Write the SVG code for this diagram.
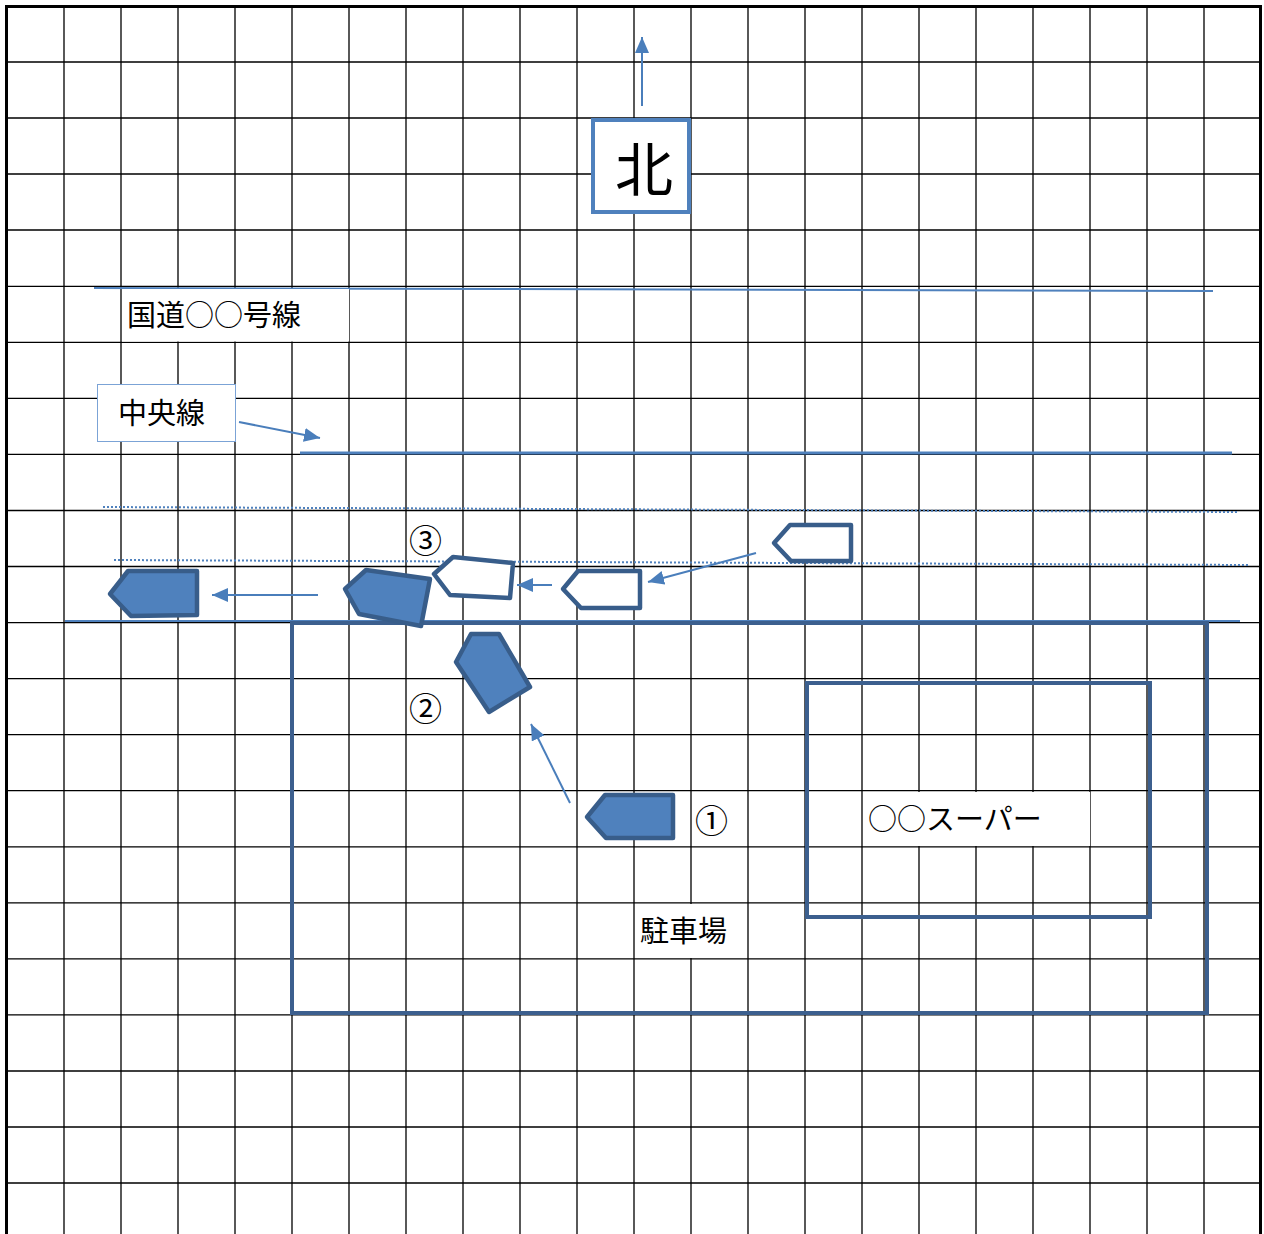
<svg xmlns="http://www.w3.org/2000/svg" width="1264" height="1234" viewBox="0 0 1264 1234">
<defs>
<style>
.g{stroke:#000;stroke-width:1.3;fill:none}
.b{stroke:#000;stroke-width:3;fill:none}
.road{stroke:#4f81bd;fill:none}
.dot{stroke:#4f81bd;stroke-width:2;stroke-dasharray:2 2;fill:none}
.area{stroke:#3c5f8e;stroke-width:4;fill:none}
.car{fill:#4f81bd;stroke:#385d8a;stroke-width:4.5;stroke-linejoin:round}
.ghost{fill:#fff;stroke:#385d8a;stroke-width:4.5;stroke-linejoin:round}
.arr{stroke:#4a7ebb;stroke-width:2;fill:none;marker-end:url(#ah)}
.t{font-family:"Noto Sans CJK JP","Noto Sans",sans-serif;font-size:29px;fill:#000}
.n{font-family:"Noto Sans CJK JP","Noto Sans",sans-serif;font-size:33px;fill:#000}
.lb{fill:#fff;stroke:none}
</style>
<marker id="ah" markerUnits="userSpaceOnUse" markerWidth="16" markerHeight="14" viewBox="0 0 16 14" refX="16" refY="7" orient="auto">
<path d="M0,0 L16,7 L0,14 z" fill="#4a7ebb"/>
</marker>
</defs>
<rect width="1264" height="1234" fill="#fff"/>
<g id="grid">
<path class="g" d="M64,6V1234M121,6V1234M178,6V1234M235,6V1234M292,6V1234M349,6V1234M406,6V1234M463,6V1234M520,6V1234M577,6V1234M634,6V1234M691,6V1234M748,6V1234M805,6V1234M862,6V1234M919,6V1234M976,6V1234M1033,6V1234M1090,6V1234M1147,6V1234M1204,6V1234"/>
<path class="g" d="M7,62H1261M7,118H1261M7,174H1261M7,230H1261M7,286.3H1261M7,342.3H1261M7,398.4H1261M7,454.4H1261M7,510.5H1261M7,566.5H1261M7,622.6H1261M7,678.6H1261M7,734.7H1261M7,790.7H1261M7,846.8H1261M7,902.8H1261M7,958.9H1261M7,1014.9H1261M7,1071H1261M7,1127H1261M7,1183H1261"/>
<path class="b" d="M6.5,1234V6.5H1260.5V1234"/>
</g>
<g id="roads">
<line class="road" x1="94" y1="288" x2="1213" y2="291" stroke-width="2"/>
<line class="road" x1="300" y1="453" x2="1232" y2="453" stroke-width="3" stroke="#4a7ebb"/>
<line class="dot" x1="103" y1="507" x2="1238" y2="512"/>
<line class="dot" x1="114" y1="560" x2="1249" y2="565"/>
<line class="road" x1="65" y1="621" x2="1240" y2="621" stroke-width="2" stroke="#6d9bd1"/>
</g>
<g id="parking">
<rect class="area" x="292" y="623" width="915" height="390"/>
<rect class="lb" x="635" y="904" width="112" height="54"/>
<text class="t" x="640" y="942">駐車場</text>
</g>
<g id="supermarket">
<rect class="area" x="807" y="683" width="343" height="234"/>
<rect class="lb" x="864" y="792" width="226" height="54"/>
<text class="t" x="868" y="830">○○スーパー</text>
</g>
<g id="road-label">
<rect class="lb" x="122" y="289" width="227" height="52.5"/>
<text class="t" x="127" y="326">国道○○号線</text>
</g>
<g id="center-label">
<rect x="97.5" y="384.5" width="138" height="57" fill="#fff" stroke="#7ba3d6" stroke-width="1"/>
<text class="t" x="118" y="424">中央線</text>
</g>
<g id="north">
<rect x="593" y="120" width="96" height="92" fill="#fff" stroke="#4f81bd" stroke-width="4"/>
<text x="644" y="191" style="font-family:'Noto Sans CJK JP',sans-serif;font-size:58px" text-anchor="middle">北</text>
</g>
<g id="car-left">
<polygon class="car" points="110,594 128,571 197,571 197,615 131,616"/>
</g>
<g id="car-collision">
<polygon class="car" points="345,589 366,570 430,579 421,626 359,614"/>
</g>
<g id="car-3">
<polygon class="ghost" points="434,574 453,557 513,563 510,598 450,595"/>
<text class="n" x="409" y="553">③</text>
</g>
<g id="car-mid">
<polygon class="ghost" points="563,589 578,571 640,571 640,608 581,608"/>
</g>
<g id="car-right">
<polygon class="ghost" points="774,543 790,525 851,525 851,561 791,561"/>
</g>
<g id="car-2">
<polygon class="car" points="456,662 471,634 499,634 530,687 489,712"/>
<text class="n" x="409" y="721">②</text>
</g>
<g id="car-1">
<polygon class="car" points="587,817 605,795 673,795 673,838 606,838"/>
<text class="n" x="695" y="833">①</text>
</g>
<g id="connectors">
<line class="arr" x1="642" y1="106" x2="642" y2="37"/>
<line class="arr" x1="239" y1="422" x2="320" y2="438"/>
<line class="arr" x1="318" y1="595" x2="212" y2="595"/>
<line class="arr" x1="552" y1="585" x2="517" y2="585"/>
<line class="arr" x1="756" y1="553" x2="648" y2="582"/>
<line class="arr" x1="570" y1="803" x2="531" y2="724"/>
</g>
</svg>
